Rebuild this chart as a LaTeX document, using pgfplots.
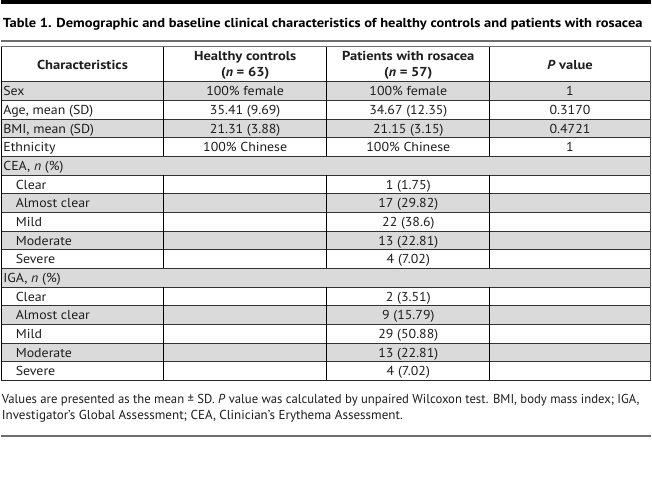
\documentclass[border=0pt]{standalone}
\usepackage{pgfplots}
\pgfplotsset{compat=1.18}
\usepackage{fontspec}
\setmainfont{PT Sans}[FakeStretch=1.07, BoldFeatures={FakeStretch=1.12}]
\definecolor{rowgray}{HTML}{DADADA}
\definecolor{txt}{HTML}{1E1E1E}
\definecolor{rule}{HTML}{6E6E6E}
\newcommand{\fs}{\fontsize{13bp}{15bp}\selectfont}
\newlength\fitw
\newcommand{\fitto}[2]{\settowidth\fitw{#2}\pgfmathsetmacro\fitsf{#1/\fitw}\scalebox{\fitsf}[1]{#2}}
\begin{document}
\begin{tikzpicture}
\begin{axis}[width=652bp, height=503bp, scale only axis, xmin=0, xmax=652, ymin=0, ymax=503,
  y dir=reverse, hide axis, clip=false]
% background
\fill[white] (axis cs:0,0) rectangle (axis cs:652,503);
% top black bar
\fill[black] (axis cs:0,0) rectangle (axis cs:652,4.5);
% title
\node[anchor=base west, inner sep=0pt, text=black, font=\fs\bfseries] at (axis cs:2,27.5) {\fitto{641bp}{Table 1. Demographic and baseline clinical characteristics of healthy controls and patients with rosacea}};
% grey rule under title
\fill[rule] (axis cs:0,40) rectangle (axis cs:652,42);
% gray rows
\pgfplotsinvokeforeach{82, 119.4, 156.8, 194.2, 231.6, 269, 306.4, 343.8}{
  \fill[rowgray] (axis cs:0,#1) rectangle (axis cs:652,#1+18.7);
}
% horizontal lines
\draw[line width=1.3bp, rule] (axis cs:0,46.8) -- (axis cs:652,46.8);
\pgfplotsinvokeforeach{82, 100.7, 119.4, 138.1, 156.8, 175.5, 194.2, 212.9, 231.6, 250.3, 269, 287.7, 306.4, 325.1, 343.8, 362.5}{
  \draw[line width=0.9bp, black!80] (axis cs:0,#1) -- (axis cs:652,#1);
}
\draw[line width=1.1bp, black!85] (axis cs:0,381.2) -- (axis cs:652,381.2);
% outer verticals
\draw[line width=1bp, black] (axis cs:0.5,46.8) -- (axis cs:0.5,381.2);
\draw[line width=1bp, black!70] (axis cs:651.5,46.8) -- (axis cs:651.5,381.2);
% inner verticals, broken at CEA and IGA rows
\pgfplotsinvokeforeach{163.3, 326.8, 489.8}{
  \draw[line width=1bp, black] (axis cs:#1,46.8) -- (axis cs:#1,156.8);
  \draw[line width=1bp, black] (axis cs:#1,175.5) -- (axis cs:#1,269);
  \draw[line width=1bp, black] (axis cs:#1,287.7) -- (axis cs:#1,381.2);
}
% header
\begin{scope}[every node/.style={inner sep=0pt, text=txt, font=\fs\bfseries}]
\node[anchor=base] at (axis cs:82,69.2) {Characteristics};
\node[anchor=base] at (axis cs:245,61) {Healthy controls};
\node[anchor=base] at (axis cs:245,77) {(\textit{n} = 63)};
\node[anchor=base] at (axis cs:408.5,61) {Patients with rosacea};
\node[anchor=base] at (axis cs:408.5,77) {(\textit{n} = 57)};
\node[anchor=base] at (axis cs:570.5,69.2) {\textit{P} value};
\end{scope}
% body
\begin{scope}[every node/.style={inner sep=0pt, text=txt, font=\fs}]
\node[anchor=base west] at (axis cs:2.5,96) {Sex};
\node[anchor=base west] at (axis cs:2.5,114.7) {Age, mean (SD)};
\node[anchor=base west] at (axis cs:2.5,133.4) {BMI, mean (SD)};
\node[anchor=base west] at (axis cs:2.5,152.1) {Ethnicity};
\node[anchor=base west] at (axis cs:2.5,170.8) {CEA, \textit{n} (\%)};
\node[anchor=base west] at (axis cs:15,189.5) {Clear};
\node[anchor=base west] at (axis cs:15,208.2) {Almost clear};
\node[anchor=base west] at (axis cs:15,226.9) {Mild};
\node[anchor=base west] at (axis cs:15,245.6) {Moderate};
\node[anchor=base west] at (axis cs:15,264.3) {Severe};
\node[anchor=base west] at (axis cs:2.5,283.0) {IGA, \textit{n} (\%)};
\node[anchor=base west] at (axis cs:15,301.7) {Clear};
\node[anchor=base west] at (axis cs:15,320.4) {Almost clear};
\node[anchor=base west] at (axis cs:15,339.1) {Mild};
\node[anchor=base west] at (axis cs:15,357.8) {Moderate};
\node[anchor=base west] at (axis cs:15,376.5) {Severe};
\node[anchor=base] at (axis cs:245,96) {100\% female};
\node[anchor=base] at (axis cs:245,114.7) {35.41 (9.69)};
\node[anchor=base] at (axis cs:245,133.4) {21.31 (3.88)};
\node[anchor=base] at (axis cs:245,152.1) {100\% Chinese};
\node[anchor=base] at (axis cs:408.5,96) {100\% female};
\node[anchor=base] at (axis cs:408.5,114.7) {34.67 (12.35)};
\node[anchor=base] at (axis cs:408.5,133.4) {21.15 (3.15)};
\node[anchor=base] at (axis cs:408.5,152.1) {100\% Chinese};
\node[anchor=base] at (axis cs:408.5,189.5) {1 (1.75)};
\node[anchor=base] at (axis cs:408.5,208.2) {17 (29.82)};
\node[anchor=base] at (axis cs:408.5,226.9) {22 (38.6)};
\node[anchor=base] at (axis cs:408.5,245.6) {13 (22.81)};
\node[anchor=base] at (axis cs:408.5,264.3) {4 (7.02)};
\node[anchor=base] at (axis cs:408.5,301.7) {2 (3.51)};
\node[anchor=base] at (axis cs:408.5,320.4) {9 (15.79)};
\node[anchor=base] at (axis cs:408.5,339.1) {29 (50.88)};
\node[anchor=base] at (axis cs:408.5,357.8) {13 (22.81)};
\node[anchor=base] at (axis cs:408.5,376.5) {4 (7.02)};
\node[anchor=base] at (axis cs:570.5,96) {1};
\node[anchor=base] at (axis cs:570.5,114.7) {0.3170};
\node[anchor=base] at (axis cs:570.5,133.4) {0.4721};
\node[anchor=base] at (axis cs:570.5,152.1) {1};
\node[anchor=base west] at (axis cs:1,404) {\fitto{639bp}{Values are presented as the mean ± SD. \textit{P} value was calculated by unpaired Wilcoxon test. BMI, body mass index; IGA,}};
\node[anchor=base west] at (axis cs:1,420) {\fitto{402bp}{Investigator's Global Assessment; CEA, Clinician's Erythema Assessment.}};
\end{scope}
\fill[rule] (axis cs:0,436) rectangle (axis cs:652,438);
\end{axis}
\end{tikzpicture}
\end{document}
